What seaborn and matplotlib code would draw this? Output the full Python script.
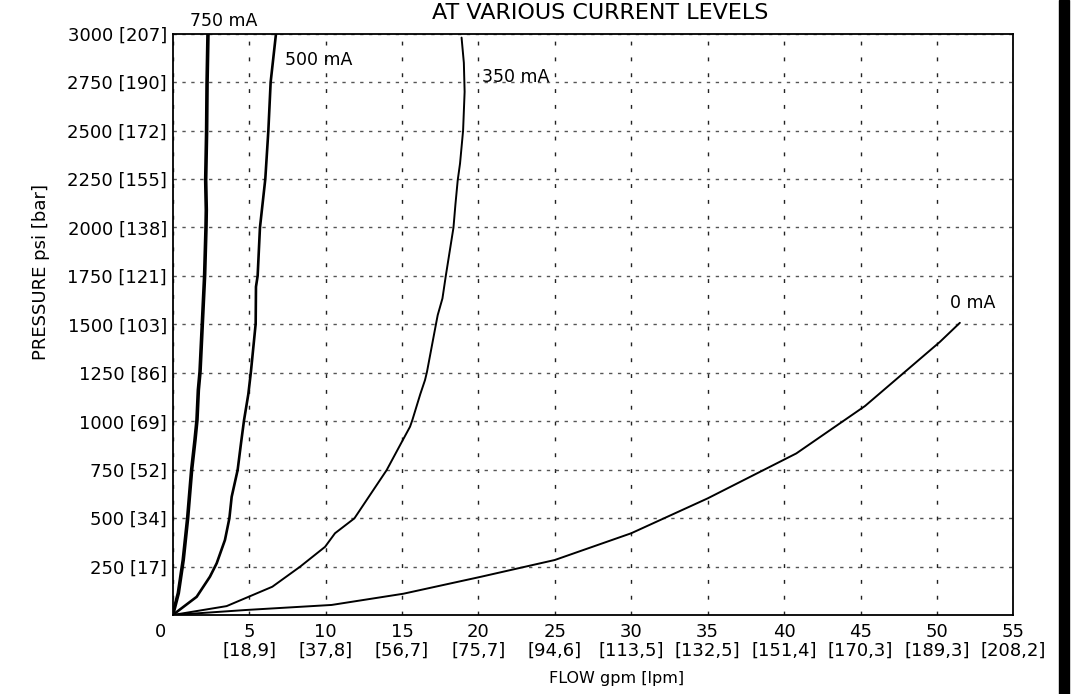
import matplotlib
matplotlib.use("Agg")
import matplotlib.pyplot as plt
import matplotlib.patches as patches
import pandas as pd
import seaborn as sns

# curve data: flow (gpm) vs pressure (psi)
flow_750 = [0, 0.37, 0.69, 0.98, 1.24, 1.46, 1.59, 1.68, 1.79, 1.94, 2.09, 2.18, 2.2, 2.16, 2.22, 2.25, 2.31]
psi_750 = [0, 113, 284, 500, 748, 903, 1006, 1161, 1256, 1503, 1751, 1999, 2090, 2245, 2493, 2745, 3000]

flow_500 = [0, 1.57, 2.44, 2.88, 3.42, 3.71, 3.86, 4.25, 4.47, 4.67, 4.95, 5.12, 5.43, 5.45, 5.56, 5.71, 6.06, 6.26, 6.41, 6.76]
psi_500 = [0, 94, 198, 267, 387, 499, 610, 748, 886, 1006, 1140, 1256, 1503, 1694, 1751, 1999, 2250, 2500, 2750, 3000]

flow_350 = [0, 3.53, 6.52, 8.33, 9.97, 10.62, 11.89, 14.0, 14.94, 15.53, 15.68, 16.2, 16.51, 16.64, 17.23,
            17.34, 17.65, 17.87, 18.37, 18.5, 18.65, 18.8, 19.0, 19.1, 19.05, 18.9]
psi_350 = [0, 46, 146, 249, 352, 422, 499, 748, 886, 972, 1006, 1140, 1213, 1256, 1503,
           1548, 1634, 1751, 1999, 2120, 2245, 2330, 2500, 2700, 2850, 2980]

flow_0 = [0, 4.8, 10.4, 15.1, 20.2, 25.0, 30.0, 35.0, 40.8, 45.3, 50.2, 51.5]
psi_0 = [0, 26, 52, 110, 198, 284, 422, 602, 834, 1079, 1410, 1508]

x_ticks = list(range(0, 56, 5))
lpm_labels = ["18,9", "37,8", "56,7", "75,7", "94,6", "113,5", "132,5", "151,4", "170,3", "189,3", "208,2"]
y_ticks = list(range(250, 3001, 250))
bar_labels = [17, 34, 52, 69, 86, 103, 121, 138, 155, 172, 190, 207]

sns.set_style("white")
plt.rcParams["font.family"] = ["DejaVu Sans"]
plt.rcParams["text.color"] = "black"
plt.rcParams["axes.labelcolor"] = "black"
plt.rcParams["xtick.color"] = "black"
plt.rcParams["ytick.color"] = "black"

fig = plt.figure(figsize=(10.88, 6.94), dpi=100)
ax = fig.add_axes([0.1587, 0.1138, 0.7727, 0.8376])

curves = [
    ("750 mA", flow_750, psi_750, 2.6),
    ("500 mA", flow_500, psi_500, 1.9),
    ("350 mA", flow_350, psi_350, 1.4),
    ("0 mA", flow_0, psi_0, 1.4),
]
for name, fx, py, lw in curves:
    df = pd.DataFrame({"flow": fx, "psi": py})
    sns.lineplot(data=df, x="flow", y="psi", sort=False, estimator=None,
                 color="black", linewidth=lw, ax=ax, zorder=3)

ax.set_xlim(0, 55)
ax.set_ylim(0, 3000)

ax.set_xticks(x_ticks)
ax.set_xticklabels([""] + [f"{g}\n[{l}]" for g, l in zip(x_ticks[1:], lpm_labels)], fontsize=13)
for lab in ax.get_xticklabels():
    lab.set_linespacing(1.0)
ax.set_yticks(y_ticks)
ax.set_yticklabels([f"{p} [{b}]" for p, b in zip(y_ticks, bar_labels)], fontsize=13)
ax.tick_params(axis="both", length=0)
ax.tick_params(axis="x", pad=6)
ax.tick_params(axis="y", pad=4)
ax.annotate("0", xy=(0, 0), xytext=(-12, -8), textcoords="offset pixels",
            ha="center", va="top", fontsize=13)

ax.grid(True, axis="y", color="#555555", linewidth=1.0, linestyle=(0, (2.4, 4.0)))
ax.grid(True, axis="x", color="#222222", linewidth=1.0, linestyle=(0, (2.8, 8.6)))
ax.set_axisbelow(True)

for s in ax.spines.values():
    s.set_color("black")
    s.set_linewidth(1.3)

ax.set_xlabel("FLOW gpm [lpm]", fontsize=11.5)
ax.xaxis.set_label_coords(0.5276, -0.097)
ax.set_ylabel("PRESSURE psi [bar]", fontsize=13)
ax.yaxis.set_label_coords(-0.146, 0.59)

# curve names
ax.text(1.13, 3065, "750 mA", fontsize=12.5, va="center", ha="left", clip_on=False)
ax.text(7.36, 2864, "500 mA", fontsize=12.5, va="center", ha="left")
ax.text(20.24, 2776, "350 mA", fontsize=12.5, va="center", ha="left")
ax.text(50.87, 1610, "0 mA", fontsize=12.5, va="center", ha="left")

fig.text(0.5515, 1 - 13 / 694, "AT VARIOUS CURRENT LEVELS", fontsize=16,
         ha="center", va="center")

# black bar along the right edge of the sheet
fig.patches.append(patches.Rectangle((1059 / 1088, 0), 10 / 1088, 1,
                                     transform=fig.transFigure, color="black"))

fig.savefig("out.png", dpi=100)
